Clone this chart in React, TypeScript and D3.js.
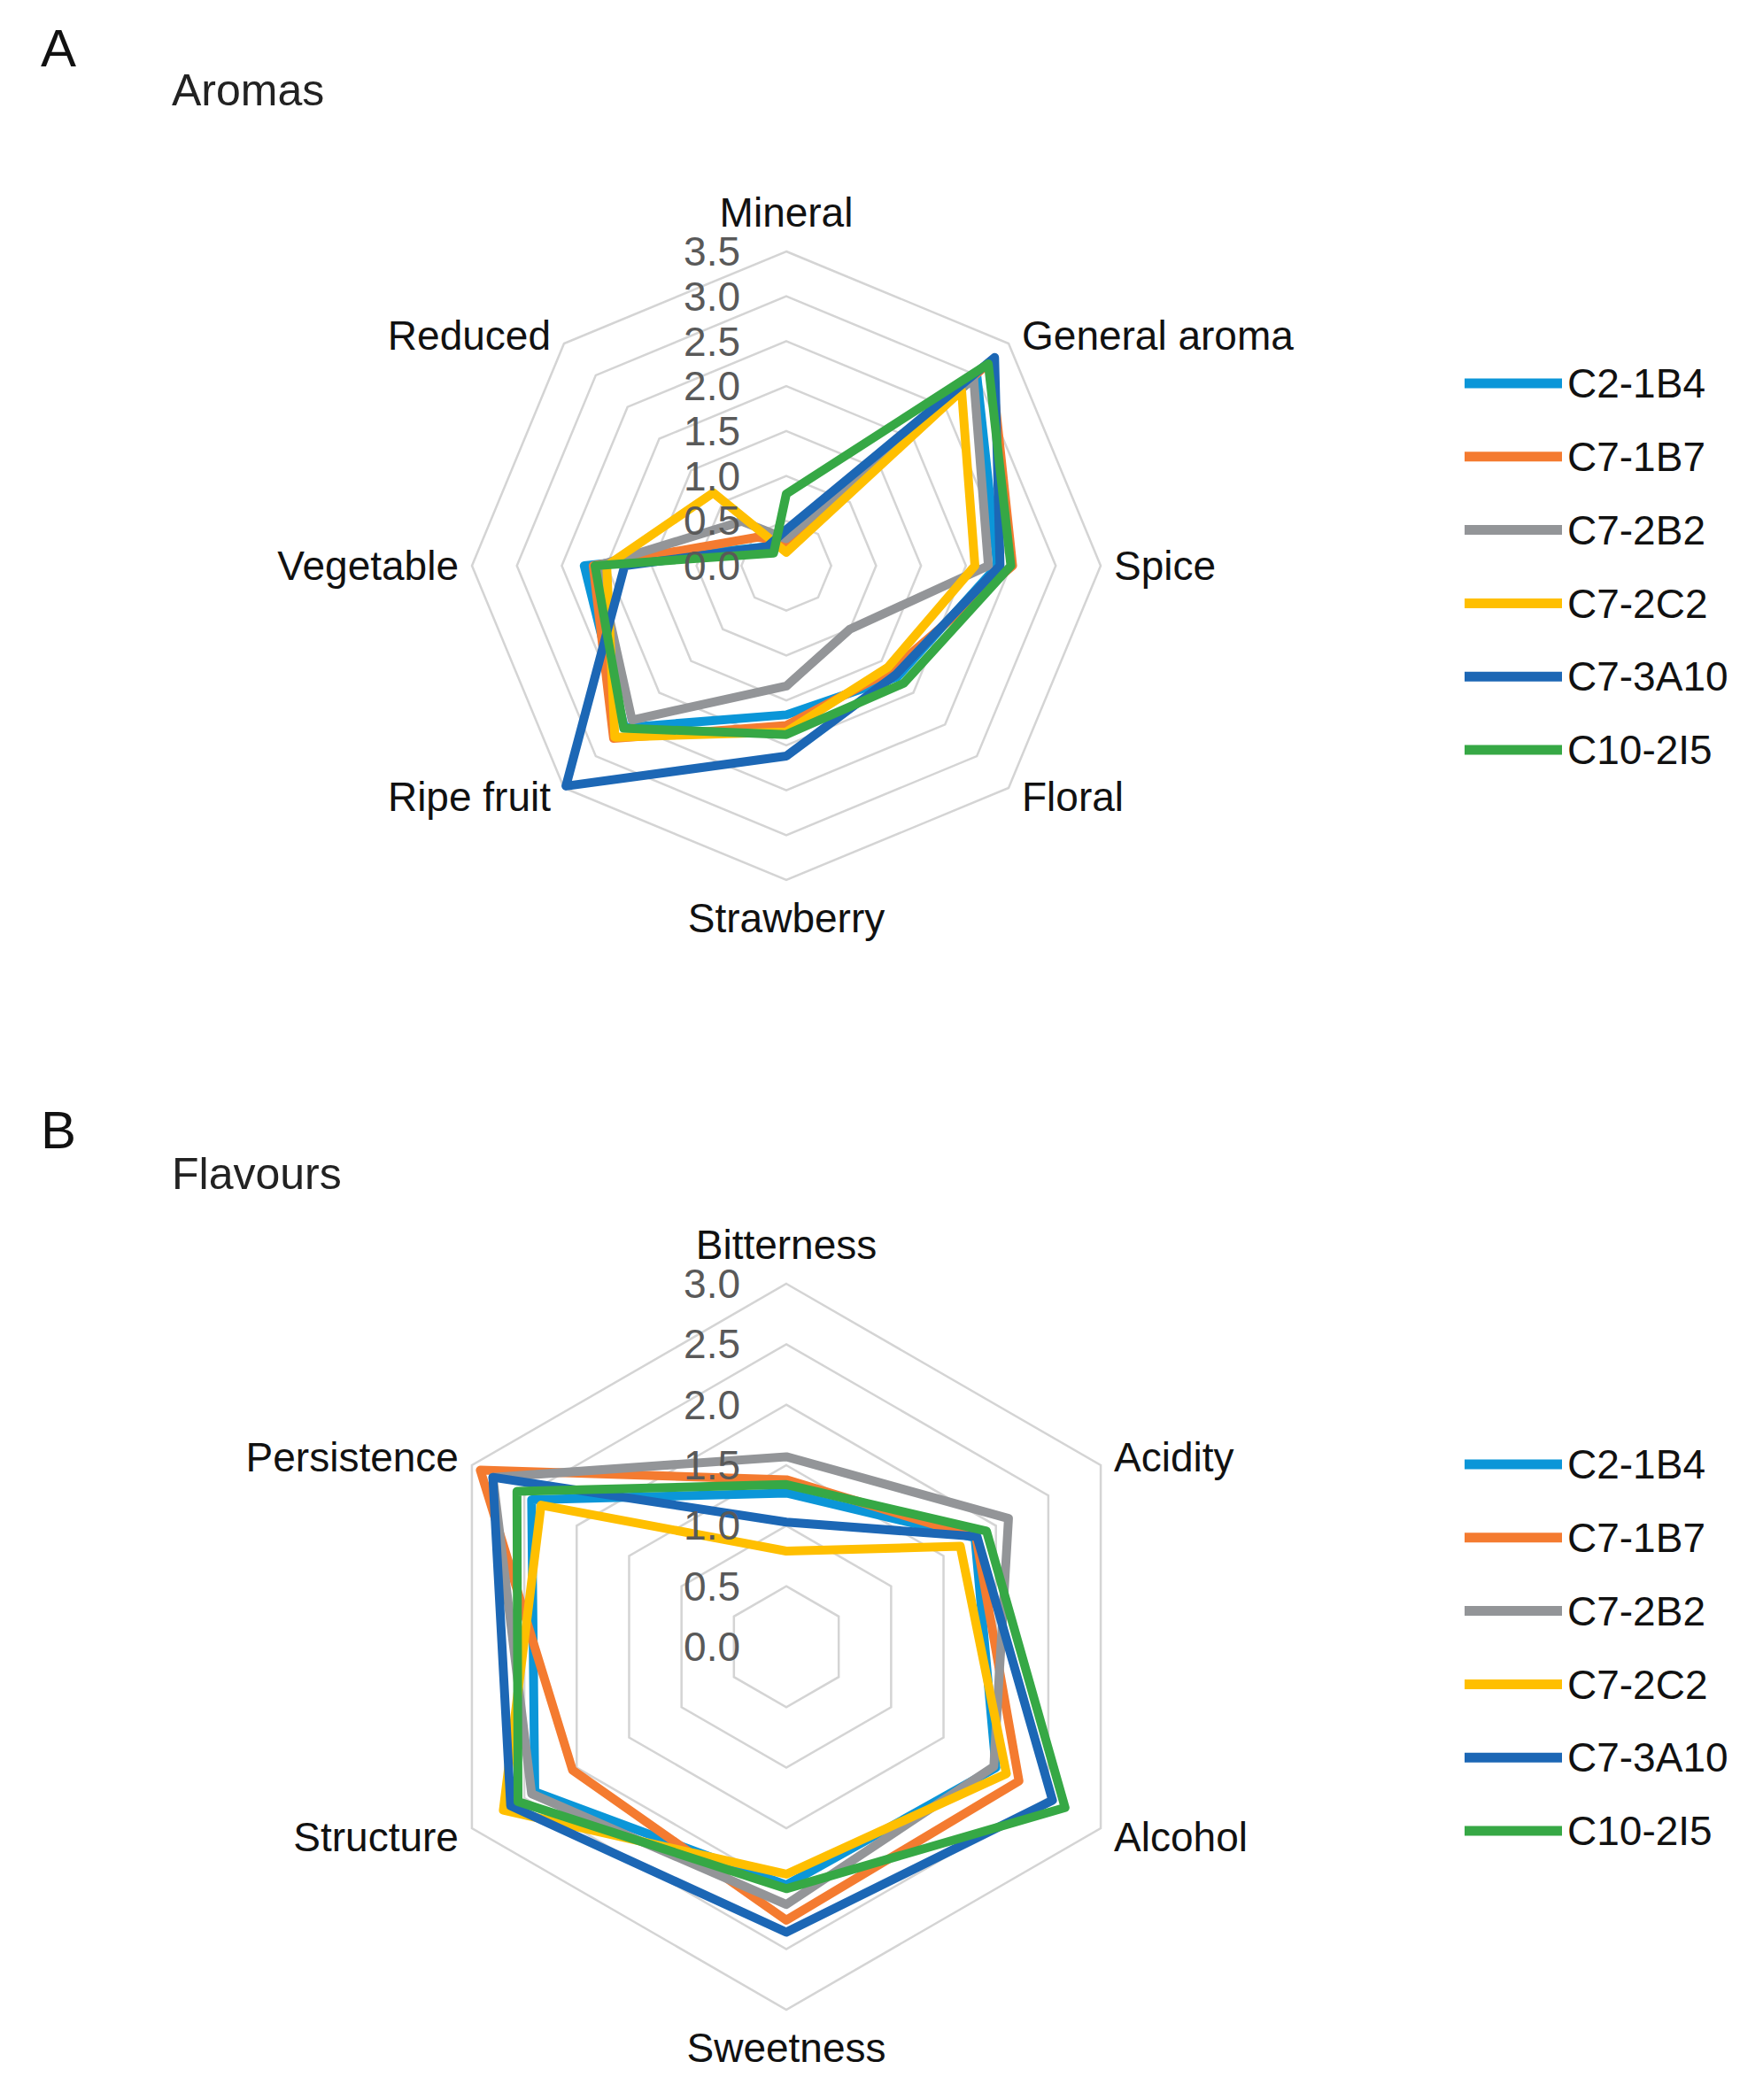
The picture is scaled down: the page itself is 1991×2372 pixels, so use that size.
import React from "react";
import * as d3 from "d3";

// ---------- data ----------
const seriesNames = ["C2-1B4", "C7-1B7", "C7-2B2", "C7-2C2", "C7-3A10", "C10-2I5"];
const seriesColors = ["#0B96D8", "#F47B30", "#939598", "#FFBF00", "#1C67B5", "#36A845"];

// Panel A – Aromas
const aromaAxes = ["Mineral", "General aroma", "Spice", "Floral", "Strawberry", "Ripe fruit", "Vegetable", "Reduced"];
const aromaTicks = [0, 0.5, 1.0, 1.5, 2.0, 2.5, 3.0, 3.5];
const aromaC2_1B4 = [0.3, 3.0, 2.35, 1.75, 1.66, 2.55, 2.25, 0.3];
const aromaC7_1B7 = [0.25, 3.22, 2.52, 1.65, 1.78, 2.72, 2.15, 0.45];
const aromaC7_2B2 = [0.3, 2.95, 2.25, 1.0, 1.34, 2.43, 2.1, 0.7];
const aromaC7_2C2 = [0.15, 2.76, 2.1, 1.6, 1.85, 2.7, 2.0, 1.15];
const aromaC7_3A10 = [0.4, 3.28, 2.38, 1.72, 2.12, 3.47, 1.8, 0.3];
const aromaC10_2I5 = [0.8, 3.18, 2.5, 1.85, 1.88, 2.56, 2.13, 0.2];

// Panel B – Flavours
const flavourAxes = ["Bitterness", "Acidity", "Alcohol", "Sweetness", "Structure", "Persistence"];
const flavourTicks = [0, 0.5, 1.0, 1.5, 2.0, 2.5, 3.0];
const flavourC2_1B4 = [1.27, 1.8, 2.0, 1.97, 2.4, 2.43];
const flavourC7_1B7 = [1.38, 1.81, 2.22, 2.26, 2.04, 2.92];
const flavourC7_2B2 = [1.57, 2.12, 1.98, 2.13, 2.43, 2.8];
const flavourC7_2C2 = [0.79, 1.66, 2.1, 1.88, 2.7, 2.34];
const flavourC7_3A10 = [1.03, 1.82, 2.54, 2.36, 2.63, 2.8];
const flavourC10_2I5 = [1.34, 1.91, 2.66, 2.0, 2.56, 2.57];

const aromaSeries = [aromaC2_1B4, aromaC7_1B7, aromaC7_2B2, aromaC7_2C2, aromaC7_3A10, aromaC10_2I5];
const flavourSeries = [flavourC2_1B4, flavourC7_1B7, flavourC7_2B2, flavourC7_2C2, flavourC7_3A10, flavourC10_2I5];

const FONT = "'Liberation Sans', Arial, sans-serif";

type RadarProps = {
  cx: number;
  cy: number;
  radius: number;
  axes: string[];
  ticks: number[];
  series: number[][];
  legendX: number;
  legendY: number;
  letter: string;
  title: string;
  letterY: number;
  titleY: number;
};

function Radar(p: RadarProps) {
  const { cx, cy, radius, axes, ticks, series, legendX, legendY } = p;
  const max = ticks[ticks.length - 1];
  const r = d3.scaleLinear().domain([0, max]).range([0, radius]);
  const n = axes.length;
  const ang = (i: number) => (i * 2 * Math.PI) / n;
  const line = d3
    .lineRadial<number>()
    .angle((_d, i) => ang(i))
    .radius((d) => r(d))
    .curve(d3.curveLinearClosed);
  const rings = ticks.filter((t) => t > 0);
  const fmt = d3.format(".1f");
  const legendStep = 82.8;

  return (
    <g>
      <text x={46} y={p.letterY} fontFamily={FONT} fontSize={60} fill="#111">
        {p.letter}
      </text>
      <text x={194} y={p.titleY} fontFamily={FONT} fontSize={50} fill="#222">
        {p.title}
      </text>
      <g transform={`translate(${cx},${cy})`}>
        {rings.map((t) => (
          <path
            key={"ring" + t}
            d={line(axes.map(() => t)) || ""}
            fill="none"
            stroke="#D4D4D4"
            strokeWidth={2.5}
          />
        ))}
        {series.map((vals, si) => (
          <path
            key={"s" + si}
            d={line(vals) || ""}
            fill="none"
            stroke={seriesColors[si]}
            strokeWidth={10}
            strokeLinejoin="round"
          />
        ))}
        {ticks.map((t) => (
          <text
            key={"t" + t}
            x={-52}
            y={-r(t)}
            dy="0.35em"
            textAnchor="end"
            fontFamily={FONT}
            fontSize={46}
            fill="#595959"
          >
            {fmt(t)}
          </text>
        ))}
        {axes.map((a, i) => {
          const s = Math.sin(ang(i));
          const c = Math.cos(ang(i));
          const vx = s * radius;
          const vy = -c * radius;
          if (Math.abs(s) < 0.01) {
            const y = c > 0 ? -(radius + 44) : radius + 43;
            return (
              <text key={a} x={0} y={y} dy="0.35em" textAnchor="middle" fontFamily={FONT} fontSize={46} fill="#111">
                {a}
              </text>
            );
          }
          const x = vx + (s > 0 ? 15 : -15);
          const y = vy + (c > 0.01 ? -9 : c < -0.01 ? 10 : 0);
          return (
            <text
              key={a}
              x={x}
              y={y}
              dy="0.35em"
              textAnchor={s > 0 ? "start" : "end"}
              fontFamily={FONT}
              fontSize={46}
              fill="#111"
            >
              {a}
            </text>
          );
        })}
      </g>
      {seriesNames.map((name, si) => {
        const y = legendY + si * legendStep;
        return (
          <g key={"lg" + si}>
            <line x1={legendX} x2={legendX + 110} y1={y} y2={y} stroke={seriesColors[si]} strokeWidth={11} />
            <text x={legendX + 116} y={y} dy="0.35em" fontFamily={FONT} fontSize={46} fill="#111">
              {name}
            </text>
          </g>
        );
      })}
    </g>
  );
}

export default function App() {
  return (
    <svg
      width={1991}
      height={2372}
      style={{ position: "absolute", left: 0, top: 0, background: "#fff" }}
    >
      <rect x={0} y={0} width={1991} height={2372} fill="#fff" />
      <Radar
        cx={888}
        cy={639}
        radius={355}
        axes={aromaAxes}
        ticks={aromaTicks}
        series={aromaSeries}
        legendX={1654}
        legendY={433}
        letter="A"
        title="Aromas"
        letterY={75}
        titleY={119}
      />
      <Radar
        cx={888}
        cy={1860}
        radius={410}
        axes={flavourAxes}
        ticks={flavourTicks}
        series={flavourSeries}
        legendX={1654}
        legendY={1654}
        letter="B"
        title="Flavours"
        letterY={1297}
        titleY={1343}
      />
    </svg>
  );
}
